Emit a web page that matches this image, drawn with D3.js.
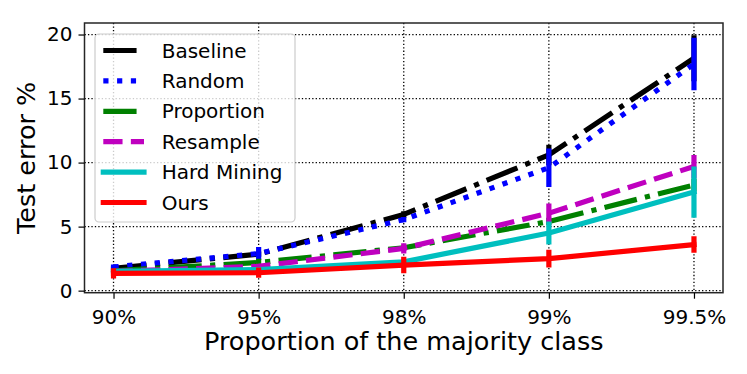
<!DOCTYPE html>
<html>
<head>
<meta charset="utf-8">
<script src="https://cdnjs.cloudflare.com/ajax/libs/d3/7.8.5/d3.min.js"></script>
<style>
  html, body { margin: 0; padding: 0; background: #fff; }
  svg { display: block; }
  text { font-family: "DejaVu Sans", sans-serif; fill: #000; }
</style>
</head>
<body>
<svg id="chart" width="747" height="374"></svg>
<script>
// ---------------- data ----------------
const categories = ["90%", "95%", "98%", "99%", "99.5%"];
const yTicks = [0, 5, 10, 15, 20];
const seriesNames = ["Baseline", "Random", "Proportion", "Resample", "Hard Mining", "Ours"];
const baseline      = [1.75, 2.85, 5.95, 10.6, 18.15];
const baselineErr   = [0.15, 0.2, 0.25, 0.8, 1.8];
const random        = [1.85, 2.9, 5.55, 9.6, 17.7];
const randomErr     = [0.2, 0.5, 0.2, 1.5, 2.05];
const proportion    = [1.55, 2.2, 3.35, 5.4, 8.25];
const proportionErr = [0.1, 0.3, 0.2, 0.3, 0.5];
const resample      = [1.5, 1.9, 3.3, 6.05, 9.7];
const resampleErr   = [0.1, 0.2, 0.4, 0.75, 0.9];
const hardMining    = [1.5, 1.65, 2.25, 4.5, 7.7];
const hardMiningErr = [0.1, 0.1, 0.2, 0.9, 2.0];
const ours          = [1.35, 1.4, 2.0, 2.5, 3.6];
const oursErr       = [0.4, 0.4, 0.65, 0.7, 0.65];

// ---------------- styles ----------------
const LW = 5.2;
const styles = [
  { color: "#000000", dash: [6.4, 1.6, 1, 1.6] },
  { color: "#0000ff", dash: [1, 1.65] },
  { color: "#008000", dash: [6.4, 1.6, 1, 1.6] },
  { color: "#bf00bf", dash: [3.7, 1.6] },
  { color: "#00bfbf", dash: null },
  { color: "#ff0000", dash: null }
];
const seriesVals = [baseline, random, proportion, resample, hardMining, ours];
const seriesErrs = [baselineErr, randomErr, proportionErr, resampleErr, hardMiningErr, oursErr];

const svg = d3.select("#chart");
const pLeft = 84.5, pRight = 723, pTop = 23, pBottom = 292.7;

const x = d3.scaleLinear().domain([-0.2, categories.length - 1 + 0.2]).range([pLeft, pRight]);
const y = d3.scaleLinear().domain([-0.16, 20.9]).range([pBottom, pTop]);

const defs = svg.append("defs");
defs.append("clipPath").attr("id", "clip")
  .append("rect").attr("x", pLeft).attr("y", pTop).attr("width", pRight - pLeft).attr("height", pBottom - pTop);

// grid
const grid = svg.append("g");
grid.selectAll("line.gx").data(categories).enter().append("line")
  .attr("x1", (d, i) => x(i)).attr("x2", (d, i) => x(i))
  .attr("y1", pTop).attr("y2", pBottom)
  .attr("stroke", "#000").attr("stroke-width", 1.3).attr("stroke-dasharray", "1.3,2.15");
grid.selectAll("line.gy").data(yTicks).enter().append("line")
  .attr("x1", pLeft).attr("x2", pRight)
  .attr("y1", d => y(d)).attr("y2", d => y(d))
  .attr("stroke", "#000").attr("stroke-width", 1.3).attr("stroke-dasharray", "1.3,2.15");

// series
const plot = svg.append("g").attr("clip-path", "url(#clip)");
const lineGen = d3.line().x((d, i) => x(i)).y(d => y(d));
seriesVals.forEach((vals, s) => {
  const st = styles[s];
  const g = plot.append("g");
  g.append("path").datum(vals)
    .attr("d", lineGen)
    .attr("fill", "none")
    .attr("stroke", st.color)
    .attr("stroke-width", LW)
    .attr("stroke-linejoin", "round")
    .attr("stroke-linecap", st.dash ? "butt" : "square")
    .attr("stroke-dasharray", st.dash ? st.dash.map(v => v * LW).join(",") : null);
  g.selectAll("line.err").data(vals).enter().append("line")
    .attr("x1", (d, i) => x(i)).attr("x2", (d, i) => x(i))
    .attr("y1", (d, i) => y(d - seriesErrs[s][i]))
    .attr("y2", (d, i) => y(d + seriesErrs[s][i]))
    .attr("stroke", st.color).attr("stroke-width", LW);
});

// spines
svg.append("rect").attr("x", pLeft).attr("y", pTop).attr("width", pRight - pLeft).attr("height", pBottom - pTop)
  .attr("fill", "none").attr("stroke", "#262626").attr("stroke-width", 1.5);

// axes
const xAxis = d3.axisBottom(x).tickValues(d3.range(categories.length)).tickFormat(i => categories[i])
  .tickSize(6).tickPadding(11);
const gx = svg.append("g").attr("transform", `translate(0,${pBottom})`).call(xAxis);
gx.select(".domain").remove();
gx.selectAll("line").attr("stroke", "#000").attr("stroke-width", 1.2);
gx.selectAll("text").attr("font-size", 20).attr("font-family", "DejaVu Sans").attr("fill", "#000");

const yAxis = d3.axisLeft(y).tickValues(yTicks).tickSize(6).tickPadding(6);
const gy = svg.append("g").attr("transform", `translate(${pLeft},0)`).call(yAxis);
gy.select(".domain").remove();
gy.selectAll("line").attr("stroke", "#000").attr("stroke-width", 1.2);
gy.selectAll("text").attr("font-size", 20).attr("font-family", "DejaVu Sans").attr("fill", "#000");

// axis labels
svg.append("text").attr("x", (pLeft + pRight) / 2).attr("y", 350)
  .attr("text-anchor", "middle").attr("font-size", 25.5).text("Proportion of the majority class");
svg.append("text").attr("transform", `translate(35,${(pTop + pBottom) / 2}) rotate(-90)`)
  .attr("text-anchor", "middle").attr("font-size", 25.5).text("Test error %");

// legend
const lg = svg.append("g");
lg.append("rect").attr("x", 95).attr("y", 34).attr("width", 200).attr("height", 188)
  .attr("rx", 4).attr("fill", "#fff").attr("fill-opacity", 0.8)
  .attr("stroke", "#cccccc").attr("stroke-width", 1.2);
seriesNames.forEach((name, s) => {
  const st = styles[s];
  const yy = 50.5 + 30.4 * s;
  lg.append("line").attr("x1", 103.3).attr("x2", 144).attr("y1", yy).attr("y2", yy)
    .attr("stroke", st.color).attr("stroke-width", LW)
    .attr("stroke-linecap", st.dash ? "butt" : "square")
    .attr("stroke-dasharray", st.dash ? st.dash.map(v => v * LW).join(",") : null);
  lg.append("text").attr("x", 161.7).attr("y", yy + 7).attr("font-size", 20).text(name);
});
</script>
</body>
</html>
